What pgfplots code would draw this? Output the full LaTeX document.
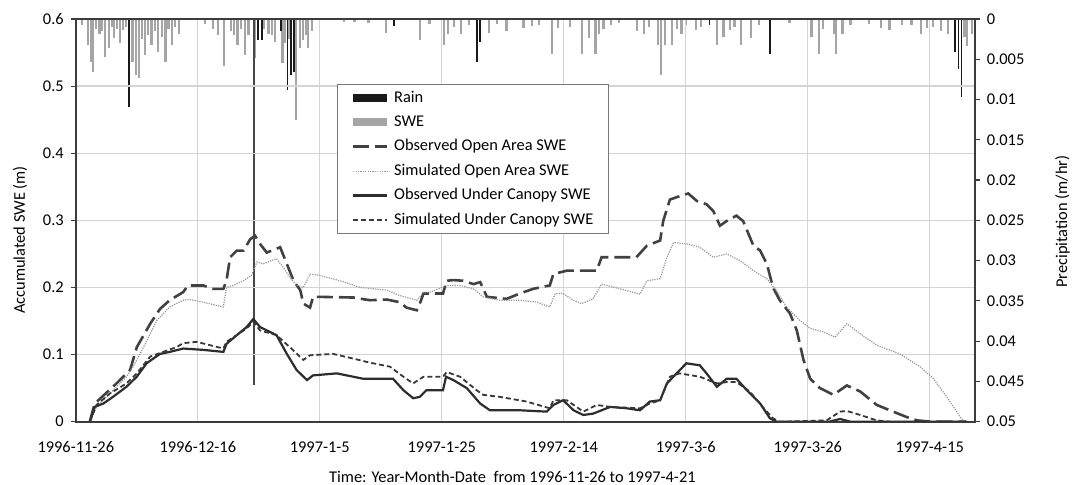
\documentclass[border=0pt]{standalone}
\usepackage{fontspec}
\setmainfont{Carlito}
\usepackage{pgfplots}
\pgfplotsset{compat=1.18}
\usepackage{pgfplotstable}

\definecolor{gridc}{RGB}{212,212,212}
\definecolor{axc}{RGB}{60,60,60}
\definecolor{legc}{RGB}{120,120,120}
\definecolor{obsopen}{RGB}{65,65,65}
\definecolor{simopen}{RGB}{150,150,150}
\definecolor{obsund}{RGB}{45,45,45}
\definecolor{simund}{RGB}{55,55,55}
\definecolor{rainc}{RGB}{25,25,25}
\definecolor{swec}{RGB}{165,165,165}
\newcommand{\tf}{\fontsize{8.2bp}{9.8bp}\selectfont}

% x = days since 1996-11-26
\pgfplotstableread{
x y
2.3 0
3.1 0.027
6.1 0.052
8.9 0.077
10.0 0.111
12.2 0.146
13.8 0.168
15.4 0.181
17.6 0.193
18.4 0.203
20.9 0.203
22.5 0.198
24.2 0.198
24.7 0.210
25.3 0.245
26.4 0.255
27.5 0.255
28.6 0.272
29.4 0.277
30.2 0.265
31.3 0.252
33.5 0.260
34.6 0.235
35.7 0.210
36.8 0.196
37.3 0.176
38.4 0.170
38.9 0.186
40.0 0.186
45.5 0.185
48.2 0.181
51.0 0.182
53.1 0.178
54.2 0.170
55.9 0.166
56.4 0.176
57.0 0.191
60.2 0.191
60.8 0.210
61.9 0.211
63.5 0.210
65.2 0.205
66.3 0.208
67.4 0.186
70.6 0.183
72.8 0.191
75.0 0.198
77.7 0.203
78.3 0.220
80.5 0.225
85.4 0.225
86.2 0.245
91.9 0.245
93.6 0.262
95.8 0.270
96.3 0.299
97.4 0.331
99.0 0.336
100.4 0.340
101.8 0.329
103.4 0.324
104.5 0.314
105.6 0.292
106.7 0.299
108.3 0.307
109.4 0.299
111.1 0.262
112.2 0.255
113.3 0.235
114.3 0.200
115.4 0.181
117.1 0.161
118.2 0.136
119.3 0.092
120.4 0.064
122.0 0.050
124.2 0.040
126.4 0.054
128.6 0.045
131.3 0.025
134.0 0.015
136.2 0.007
137.9 0.002
140.1 0
146.0 0
}\obsopen

\pgfplotstableread{
x y
2.3 0
3.4 0.022
6.1 0.047
8.3 0.067
9.4 0.082
10.0 0.092
11.1 0.111
13.3 0.151
15.4 0.171
17.6 0.181
18.7 0.182
20.9 0.178
24.2 0.171
24.7 0.200
25.8 0.203
27.5 0.210
28.8 0.218
29.7 0.238
30.7 0.235
32.9 0.243
34.0 0.230
35.1 0.215
36.2 0.203
37.3 0.200
38.4 0.220
40.0 0.218
43.3 0.210
46.6 0.200
51.0 0.196
53.1 0.188
55.9 0.181
57.0 0.193
58.1 0.193
60.8 0.203
63.0 0.203
65.2 0.198
66.8 0.186
69.5 0.181
72.8 0.181
75.6 0.178
77.7 0.171
78.6 0.191
79.9 0.191
81.6 0.181
82.9 0.176
84.8 0.183
86.2 0.205
89.2 0.198
92.5 0.190
93.6 0.210
95.8 0.213
96.9 0.245
98.0 0.267
100.1 0.265
102.3 0.260
104.5 0.245
106.7 0.250
108.9 0.240
111.1 0.225
113.3 0.213
114.9 0.195
116.5 0.171
118.7 0.151
120.4 0.139
122.5 0.134
124.5 0.126
126.4 0.146
128.6 0.131
131.3 0.114
135.1 0.101
138.4 0.082
140.6 0.064
142.8 0.037
145.0 0.007
145.6 0
}\simopen

\pgfplotstableread{
x y
2.3 0
3.1 0.022
4.5 0.027
6.1 0.037
8.3 0.052
10.0 0.067
11.6 0.087
13.8 0.101
15.4 0.104
17.6 0.109
20.9 0.107
24.2 0.104
24.7 0.116
26.4 0.129
28.0 0.141
29.1 0.153
30.2 0.141
32.9 0.129
34.6 0.101
36.2 0.077
37.9 0.062
38.9 0.069
42.8 0.072
47.1 0.064
52.0 0.064
53.7 0.047
55.3 0.035
56.4 0.037
57.5 0.047
60.2 0.047
60.7 0.067
61.9 0.062
64.1 0.050
66.3 0.027
67.9 0.017
72.8 0.017
77.2 0.015
78.3 0.025
79.9 0.032
81.6 0.017
83.2 0.010
84.8 0.012
87.6 0.022
90.3 0.020
92.5 0.017
94.1 0.030
95.8 0.032
96.9 0.057
98.5 0.072
100.1 0.087
102.3 0.084
103.4 0.072
105.1 0.052
106.7 0.064
108.3 0.064
110.0 0.047
112.2 0.027
113.8 0.005
114.9 0
123.5 0
125.3 0.004
127.0 0
146.0 0
}\obsund

\pgfplotstableread{
x y
2.3 0
3.4 0.025
5.6 0.042
8.3 0.057
10.0 0.072
12.2 0.097
14.3 0.104
16.5 0.111
17.6 0.117
19.8 0.119
24.2 0.109
24.7 0.119
26.4 0.129
28.0 0.139
29.1 0.149
30.2 0.136
32.9 0.129
35.1 0.111
37.3 0.092
38.4 0.099
42.2 0.101
45.5 0.094
48.2 0.088
51.5 0.082
53.7 0.067
55.3 0.057
57.0 0.067
60.2 0.067
60.8 0.074
63.0 0.067
65.7 0.047
66.8 0.040
69.5 0.037
73.9 0.030
77.7 0.020
78.3 0.032
80.5 0.032
81.6 0.025
83.2 0.015
85.4 0.025
87.6 0.022
92.5 0.020
94.1 0.027
95.8 0.032
97.4 0.067
99.0 0.072
102.3 0.067
105.1 0.057
106.7 0.059
108.3 0.059
110.5 0.045
112.6 0.022
114.3 0.005
115.4 0
123.1 0.002
125.3 0.015
126.4 0.016
128.6 0.010
131.3 0.002
133.5 0
146.0 0
}\simund

\pgfplotstableread{
x y
8.7 0.0109
29.9 0.0026
30.5 0.0026
33.6 0.0015
34.7 0.0088
35.3 0.0070
35.8 0.0066
52.2 0.0009
65.8 0.0053
66.3 0.0028
103.9 0.0007
113.8 0.0043
144.2 0.0041
144.7 0.0062
145.2 0.0097
}\rain

\pgfplotstableread{
x y
29.2 0.0454
}\rainspike

\pgfplotstableread{
x y
1.0 0.0008
2.0 0.0032
2.5 0.0053
2.8 0.0066
3.3 0.0012
3.9 0.0019
4.3 0.0015
4.8 0.0047
5.4 0.0036
5.9 0.0010
6.2 0.0023
6.8 0.0012
7.3 0.0030
7.8 0.0014
8.2 0.0010
9.3 0.0053
9.9 0.0070
10.4 0.0073
10.9 0.0025
11.3 0.0045
11.8 0.0020
12.4 0.0032
13.0 0.0015
13.5 0.0041
14.1 0.0022
14.7 0.0053
15.2 0.0012
15.8 0.0032
16.3 0.0010
16.9 0.0019
21.2 0.0006
22.5 0.0012
23.3 0.0020
24.3 0.0058
25.4 0.0015
25.9 0.0020
26.5 0.0032
27.1 0.0012
27.7 0.0045
28.3 0.0020
29.3 0.0049
30.9 0.0012
31.6 0.0019
32.2 0.0020
32.7 0.0028
33.9 0.0055
34.2 0.0030
35.0 0.0025
36.1 0.0126
36.7 0.0036
37.2 0.0026
37.7 0.0020
38.1 0.0036
38.7 0.0015
44.0 0.0004
45.7 0.0004
48.0 0.0005
50.8 0.0017
56.4 0.0026
58.0 0.0006
60.4 0.0032
61.0 0.0019
62.0 0.0010
63.2 0.0019
64.5 0.0008
67.7 0.0017
69.0 0.0006
70.6 0.0015
73.4 0.0011
74.8 0.0009
76.0 0.0008
78.1 0.0043
79.0 0.0011
81.0 0.0010
83.0 0.0043
84.1 0.0024
85.2 0.0043
85.8 0.0019
86.5 0.0012
87.8 0.0007
89.0 0.0005
92.0 0.0015
93.2 0.0019
94.0 0.0010
95.4 0.0032
95.9 0.0069
96.6 0.0032
97.7 0.0032
98.5 0.0012
99.3 0.0018
100.0 0.0007
101.7 0.0014
102.5 0.0010
105.1 0.0032
106.2 0.0022
107.3 0.0014
108.0 0.0010
109.0 0.0032
110.7 0.0024
112.0 0.0008
117.0 0.0005
120.6 0.0022
121.8 0.0043
122.5 0.0012
124.3 0.0019
124.6 0.0043
125.7 0.0019
127.0 0.0008
130.0 0.0006
132.0 0.0011
133.4 0.0014
135.4 0.0007
137.0 0.0008
138.5 0.0019
139.6 0.0011
140.5 0.0010
141.9 0.0015
143.0 0.0019
145.7 0.0022
146.1 0.0034
146.9 0.0019
}\swe

\begin{document}
\begin{tikzpicture}
% precipitation axis (right, reversed)
\begin{axis}[
  scale only axis, width=449.55bp, height=201.35bp,
  xmin=0, xmax=147.4, ymin=0, ymax=0.05, y dir=reverse,
  axis x line=none, axis y line*=right,
  axis line style={draw=axc, line width=0.9bp, -},
  scaled y ticks=false,
  ytick={0,0.005,0.01,0.015,0.02,0.025,0.03,0.035,0.04,0.045,0.05},
  yticklabels={0,0.005,0.01,0.015,0.02,0.025,0.03,0.035,0.04,0.045,0.05},
  tick align=outside, major tick length=2.5bp,
  ytick style={draw=axc, line width=0.6bp},
  yticklabel style={font=\tf},
  ylabel={Precipitation (m/hr)},
  ylabel style={font=\tf, at={(axis description cs:1.0974,0.497)}, anchor=center},
]
\addplot[ycomb, draw=swec, line width=1.1bp] table[x=x,y=y] {\swe};
\addplot[ycomb, draw=rainc, line width=0.9bp] table[x=x,y=y] {\rain};
\addplot[ycomb, draw=rainc!80, line width=0.6bp] table[x=x,y=y] {\rainspike};
\end{axis}
% SWE axis (left)
\begin{axis}[
  scale only axis, width=449.55bp, height=201.35bp,
  xmin=0, xmax=147.4, ymin=0, ymax=0.6,
  xtick={0,20,40,60,80,100,120,140},
  xticklabels={1996-11-26,1996-12-16,1997-1-5,1997-1-25,1997-2-14,1997-3-6,1997-3-26,1997-4-15},
  ytick={0,0.1,0.2,0.3,0.4,0.5,0.6},
  yticklabels={0,0.1,0.2,0.3,0.4,0.5,0.6},
  tick pos=left,
  tick align=outside, major tick length=2.5bp,
  xtick style={draw=none},
  ytick style={draw=axc, line width=0.6bp},
  grid=major, major grid style={draw=gridc, line width=0.7bp},
  axis line style={draw=axc, line width=0.9bp},
  ticklabel style={font=\tf},
  xticklabel style={yshift=-4bp},
  xlabel={Time: Year-Month-Date\ \ from 1996-11-26 to 1997-4-21},
  xlabel style={font=\tf, at={(axis description cs:0.4856,-0.1375)}, anchor=center},
  ylabel={Accumulated SWE (m)},
  ylabel style={font=\tf, at={(axis description cs:-0.0621,0.451)}, anchor=center},
  legend style={at={(axis description cs:0.290,0.8386)}, anchor=north west,
    draw=legc, line width=0.6bp, fill=white, font=\tf,
    inner xsep=6bp, inner ysep=0.6bp, row sep=0bp,
    nodes={text height=6bp, text depth=1.8bp, inner ysep=2.2bp, inner xsep=1.5bp}},
  legend cell align=left,
]
\addlegendimage{draw=rainc, line width=4bp}
\addlegendentry{Rain}
\addlegendimage{draw=swec, line width=4bp}
\addlegendentry{SWE}
\addplot[draw=obsopen, line width=1.3bp, dash pattern=on 8bp off 3bp] table[x=x,y=y] {\obsopen};
\addlegendentry{Observed Open Area SWE}
\addplot[draw=simopen, line width=0.6bp, dash pattern=on 0.6bp off 0.6bp] table[x=x,y=y] {\simopen};
\addlegendentry{Simulated Open Area SWE}
\addplot[draw=obsund, line width=1.1bp] table[x=x,y=y] {\obsund};
\addlegendentry{Observed Under Canopy SWE}
\addplot[draw=simund, line width=0.9bp, dash pattern=on 2.5bp off 1.5bp] table[x=x,y=y] {\simund};
\addlegendentry{Simulated Under Canopy SWE}
\coordinate (bbl) at (rel axis cs:-0.0843,-0.1572);
\coordinate (btr) at (rel axis cs:1.108,1.0472);
\end{axis}
\pgfresetboundingbox
\useasboundingbox (bbl) rectangle (btr);
\end{tikzpicture}
\end{document}
